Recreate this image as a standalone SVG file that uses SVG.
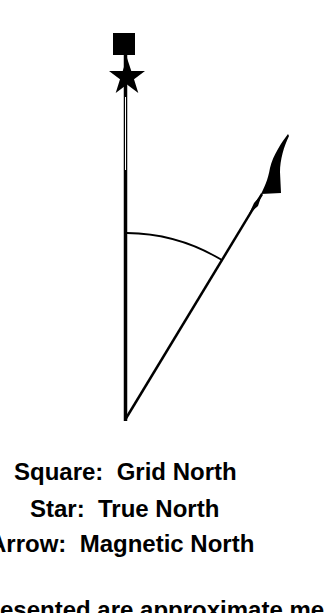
<svg xmlns="http://www.w3.org/2000/svg" width="327" height="613" viewBox="0 0 327 613">
  <style>
    .lbl { font-family: "Liberation Sans", Arial, sans-serif; font-weight: bold; font-size: 24px; fill: #000; white-space: pre; }
    .ln { stroke: #000; fill: none; }
  </style>
  <rect width="327" height="613" fill="#fff"/>
  <g id="connectors">
    <line class="ln" x1="125.5" y1="54" x2="125.5" y2="421" stroke-width="3.5"/>
    <line x1="125.5" y1="97" x2="125.5" y2="170" stroke="#fff" stroke-width="1"/>
    <line class="ln" x1="125" y1="420" x2="262" y2="194" stroke-width="2.5"/>
    <path id="angle-arc" class="ln" d="M127,233 A187,187 0 0 1 221.9,260.1" stroke-width="1.8"/>
  </g>
  <g id="grid-north">
    <rect x="113" y="33" width="22" height="22" fill="#000"/>
  </g>
  <g id="true-north">
    <polygon fill="#000" points="127,58 131.3,71 145,71 134,79.3 138.3,93 127,84.6 115.7,93 120,79.3 109,71 122.7,71"/>
  </g>
  <g id="magnetic-north">
    <path fill="#000" d="M249,214 L254,203 L262,194 L258,206 Z"/>
    <path fill="#000" d="M288,134 C282,142 273,155 270,168 C268,180 264,188 261,194 L281,193 L280,172 C280,160 284,146 289,136 Z"/>
  </g>
  <g id="legend">
    <text class="lbl" x="14" y="480">Square:  Grid North</text>
    <text class="lbl" x="30" y="517">Star:  True North</text>
    <text class="lbl" x="-11" y="552">Arrow:  Magnetic North</text>
    <text class="lbl" x="0" y="618">esented are approximate me</text>
  </g>
</svg>
